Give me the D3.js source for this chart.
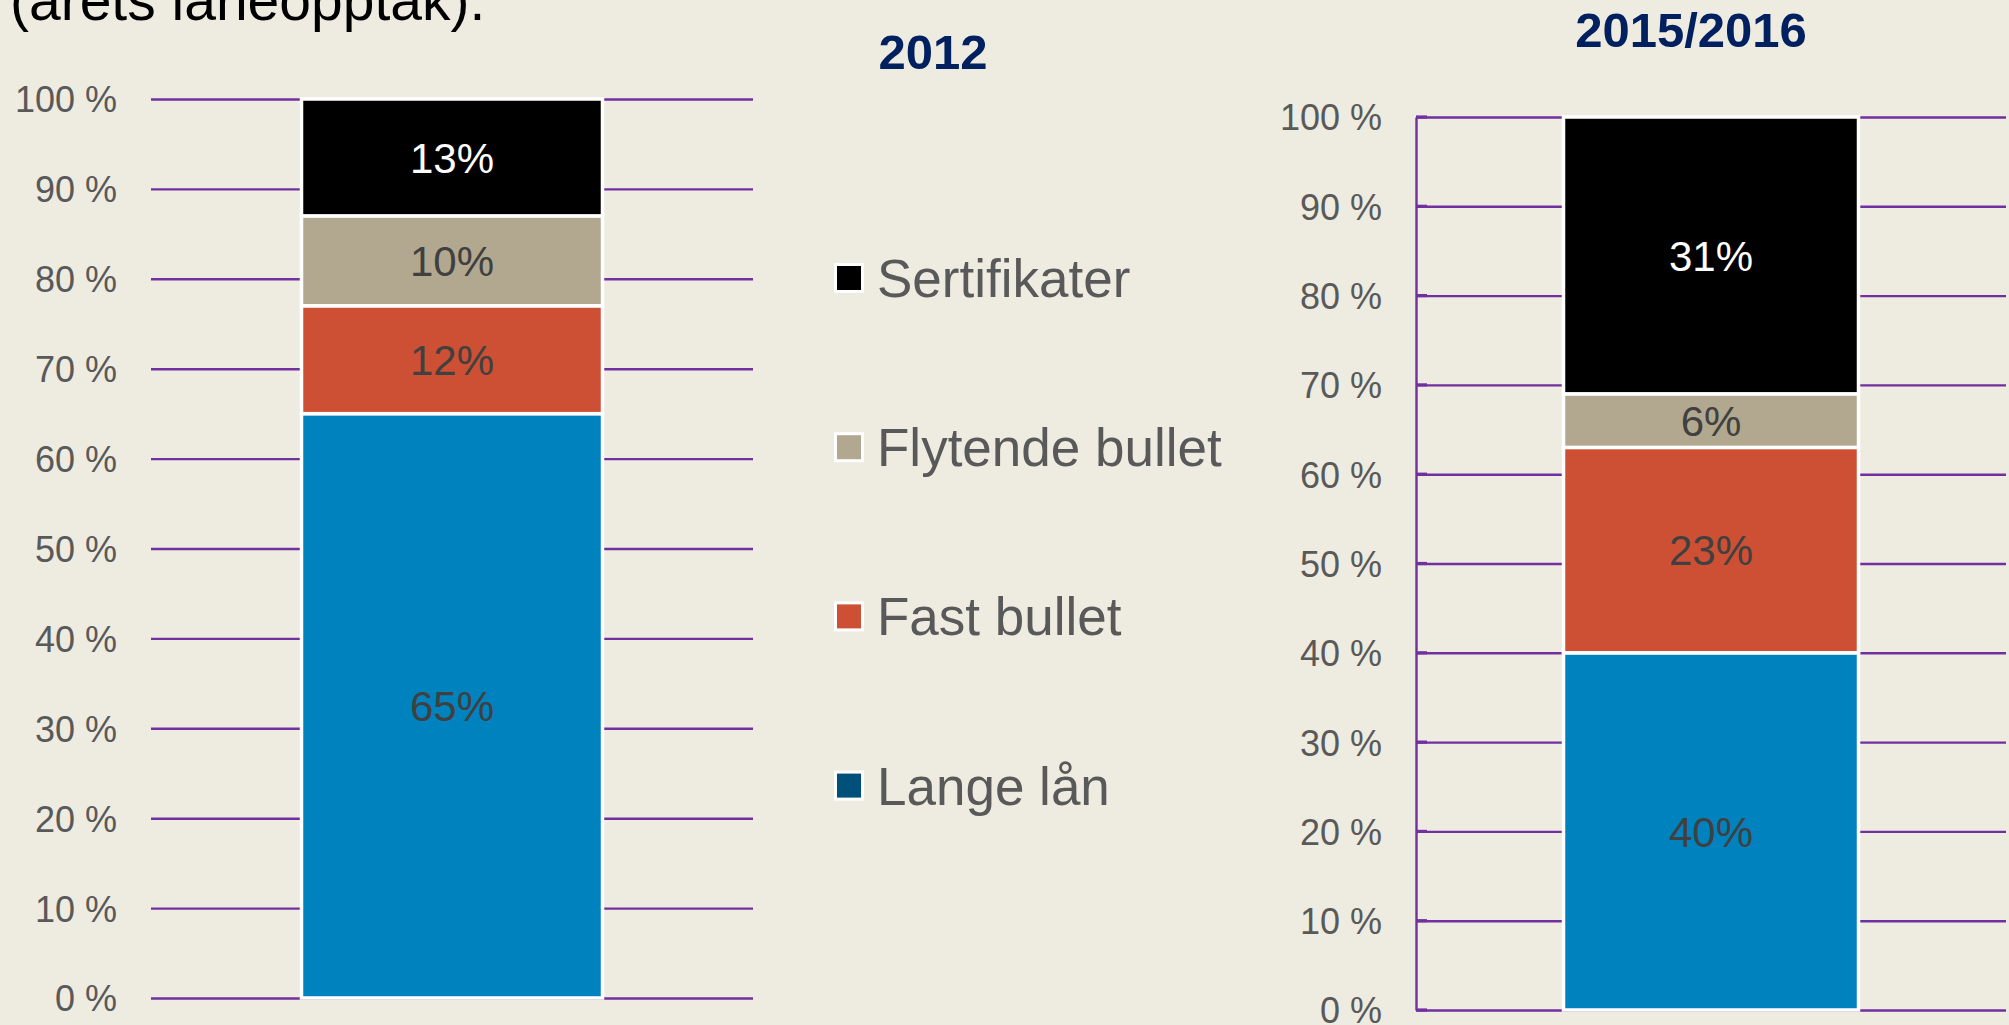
<!DOCTYPE html>
<html>
<head>
<meta charset="utf-8">
<script src="https://cdn.jsdelivr.net/npm/d3@7"></script>
<style>
  html, body { margin: 0; padding: 0; background: #eeebe0; overflow: hidden; }
  svg { display: block; }
  text { font-family: "Liberation Sans", Arial, sans-serif; }
</style>
</head>
<body>
<script>
// ---- data ----
const periods = ["2012", "2015/2016"];
const seriesNames = ["Lange lån", "Fast bullet", "Flytende bullet", "Sertifikater"];
const values2012 = [65, 12, 10, 13];
const values2016 = [40, 23, 6, 31];
const tickValues = [0, 10, 20, 30, 40, 50, 60, 70, 80, 90, 100];
const headerText = "(årets låneopptak).";

// ---- styles ----
const barColors = ["#0082be", "#cd5034", "#b1a88f", "#000000"];
const legendColors = ["#00507a", "#cd5034", "#b1a88f", "#000000"];
const labelColors = ["#404040", "#404040", "#404040", "#ffffff"];
const gridColor = "#7030a0";

const W = 2009, H = 1025;
const svg = d3.select("body").append("svg").attr("width", W).attr("height", H);
svg.append("rect").attr("width", W).attr("height", H).attr("fill", "#eeebe0");

// header fragment (cut at top)
svg.append("text").attr("x", 10).attr("y", 20)
  .attr("font-size", 57).attr("fill", "#000").text(headerText);

// panel layout
const panels = [
  { period: periods[0], values: values2012, x0: 151, x1: 753, yBottom: 998, yTop: 99, axisLine: false,
    titleX: 933, titleY: 69 },
  { period: periods[1], values: values2016, x0: 1416, x1: 2006, yBottom: 1010, yTop: 117, axisLine: true,
    titleX: 1691, titleY: 47 }
];

panels.forEach(p => {
  const y = d3.scaleLinear().domain([0, 100]).range([p.yBottom, p.yTop]);
  const x = d3.scaleBand().domain([p.period]).range([p.x0, p.x1]).paddingInner(0).paddingOuter(0.5);
  const width = p.x1 - p.x0;

  const g = svg.append("g").attr("transform", `translate(${p.x0},0)`);
  const axis = d3.axisLeft(y).tickValues(tickValues).tickSize(-width).tickSizeOuter(0)
    .tickPadding(34).tickFormat(d => d + " %");
  const ax = g.append("g").call(axis);
  ax.selectAll(".tick line").attr("stroke", gridColor).attr("stroke-width", 2.4);
  ax.selectAll(".tick text").attr("fill", "#595959").attr("font-size", 36)
    .attr("font-family", "'Liberation Sans', Arial, sans-serif").attr("dy", "0.36em");
  if (p.axisLine) {
    ax.select(".domain").attr("stroke", gridColor).attr("stroke-width", 2.4);
    g.append("g").selectAll("line").data(tickValues).join("line")
      .attr("x1", 0).attr("x2", 11).attr("y1", d => y(d)).attr("y2", d => y(d))
      .attr("stroke", gridColor).attr("stroke-width", 3.2);
  } else {
    ax.select(".domain").remove();
  }

  // stacked segments
  const row = {};
  seriesNames.forEach((s, i) => row[s] = p.values[i]);
  const stacked = d3.stack().keys(seriesNames)([row]);

  const segs = svg.append("g");
  stacked.forEach((layer, i) => {
    const d = layer[0];
    segs.append("rect")
      .attr("x", x(p.period)).attr("width", x.bandwidth())
      .attr("y", y(d[1])).attr("height", y(d[0]) - y(d[1]))
      .attr("fill", barColors[i]).attr("stroke", "#ffffff").attr("stroke-width", 3.5);
    segs.append("text")
      .attr("x", x(p.period) + x.bandwidth() / 2)
      .attr("y", (y(d[0]) + y(d[1])) / 2)
      .attr("dy", "0.36em")
      .attr("text-anchor", "middle").attr("font-size", 42)
      .attr("fill", labelColors[i]).text(p.values[i] + "%");
  });

  svg.append("text").attr("x", p.titleX).attr("y", p.titleY)
    .attr("text-anchor", "middle").attr("font-size", 49).attr("font-weight", "bold")
    .attr("fill", "#002060").text(p.period);
});

// legend (reverse order: top = Sertifikater)
const legendOrder = d3.range(seriesNames.length).reverse();
const lg = svg.append("g");
legendOrder.forEach((si, k) => {
  const cy = 278 + k * 169.2;
  lg.append("rect").attr("x", 835.5).attr("y", cy - 13.5).attr("width", 27).attr("height", 27)
    .attr("fill", legendColors[si]).attr("stroke", "#ffffff").attr("stroke-width", 3);
  lg.append("text").attr("x", 877).attr("y", cy + 19)
    .attr("font-size", 53).attr("fill", "#595959").text(seriesNames[si]);
});
</script>
</body>
</html>
